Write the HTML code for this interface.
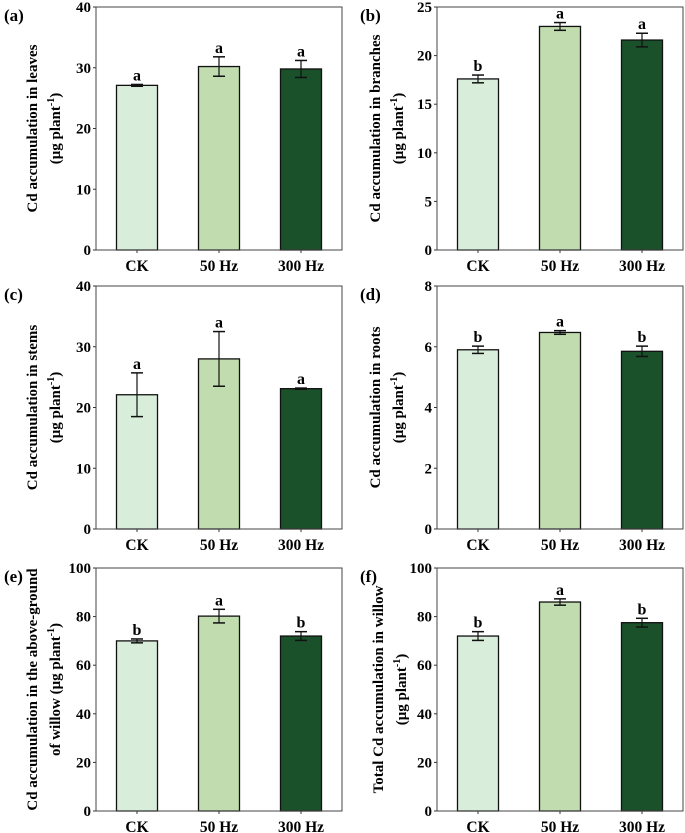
<!DOCTYPE html>
<html><head><meta charset="utf-8"><style>
html,body{margin:0;padding:0;background:#fff;}
svg{display:block;font-family:"Liberation Serif","Times New Roman",serif;font-weight:bold;}
</style></head><body>
<svg id="fig" width="685" height="833" viewBox="0 0 685 833" xmlns="http://www.w3.org/2000/svg"></svg>
<script>
const categories = ["CK", "50 Hz", "300 Hz"];
const valuesA = [27.1, 30.2, 29.8], errA = [0.15, 1.6, 1.4], sigA = ["a","a","a"], ticksA = [0,10,20,30,40];
const valuesB = [17.6, 23.0, 21.6], errB = [0.4, 0.4, 0.7], sigB = ["b","a","a"], ticksB = [0,5,10,15,20,25];
const valuesC = [22.1, 28.0, 23.1], errC = [3.6, 4.5, 0.1], sigC = ["a","a","a"], ticksC = [0,10,20,30,40];
const valuesD = [5.9, 6.47, 5.85], errD = [0.12, 0.06, 0.17], sigD = ["b","a","b"], ticksD = [0,2,4,6,8];
const valuesE = [70.0, 80.2, 72.0], errE = [0.8, 2.8, 1.8], sigE = ["b","a","b"], ticksE = [0,20,40,60,80,100];
const valuesF = [72.0, 86.0, 77.5], errF = [1.8, 1.3, 1.8], sigF = ["b","a","b"], ticksF = [0,20,40,60,80,100];
const colors = ["#d9eeda", "#c1dcae", "#1a512b"];
const NS = "http://www.w3.org/2000/svg";
const svg = document.getElementById("fig");
function mk(tag, attrs, parent){const e=document.createElementNS(NS,tag);for(const k in attrs)e.setAttribute(k,attrs[k]);(parent||svg).appendChild(e);return e;}
const panels = [
 {id:"a",x0:96,y0:7,vals:valuesA,err:errA,sig:sigA,ticks:ticksA,t1:"Cd accumulation in leaves",t2:"(μg plant",lx:4,ly:21,tx:37},
 {id:"b",x0:437,y0:7,vals:valuesB,err:errB,sig:sigB,ticks:ticksB,t1:"Cd accumulation in branches",t2:"(μg plant",lx:360,ly:21,tx:380},
 {id:"c",x0:96,y0:286,vals:valuesC,err:errC,sig:sigC,ticks:ticksC,t1:"Cd accumulation in stems",t2:"(μg plant",lx:4,ly:300,tx:37},
 {id:"d",x0:437,y0:286,vals:valuesD,err:errD,sig:sigD,ticks:ticksD,t1:"Cd accumulation in roots",t2:"(μg plant",lx:360,ly:300,tx:380},
 {id:"e",x0:96,y0:568,vals:valuesE,err:errE,sig:sigE,ticks:ticksE,t1:"Cd accumulation in the above-ground",t2:"of willow (μg plant",lx:4,ly:582,tx:37},
 {id:"f",x0:437,y0:568,vals:valuesF,err:errF,sig:sigF,ticks:ticksF,t1:"Total Cd accumulation in willow",t2:"(μg plant",lx:360,ly:582,tx:383}
];
const W=246, H=243;
panels.forEach(p=>{
  const g=mk("g",{});
  
  
  const ymax=p.ticks[p.ticks.length-1];
  const yS=v=>p.y0+H-v/ymax*H;
  const step=W/categories.length;
  const xS=i=>p.x0+step*(i+0.5);
  const lab=mk("text",{x:p.lx,y:p.ly,"font-size":17},g);lab.textContent="("+p.id+")";
  
  
  p.ticks.forEach(t=>{
    mk("line",{x1:p.x0-3,x2:p.x0,y1:yS(t),y2:yS(t),stroke:"#333","stroke-width":1},g);
    const tl=mk("text",{x:p.x0-5,y:yS(t)+5,"font-size":15,"text-anchor":"end"},g);tl.textContent=t;
    
    
  });
  categories.forEach((c,i)=>{
    const v=p.vals[i],e=p.err[i],cx=xS(i),bw=step*0.5;
    const r=mk("rect",{x:cx-bw/2,y:yS(v),width:bw,height:yS(0)-yS(v),fill:colors[i],stroke:"#111","stroke-width":1.3},g);
    
    
    mk("line",{x1:cx,x2:cx,y1:yS(v+e),y2:yS(v-e),stroke:"#111","stroke-width":1.2},g);
    mk("line",{x1:cx-6,x2:cx+6,y1:yS(v+e),y2:yS(v+e),stroke:"#111","stroke-width":1.5},g);
    mk("line",{x1:cx-6,x2:cx+6,y1:yS(v-e),y2:yS(v-e),stroke:"#111","stroke-width":1.5},g);
    const s=mk("text",{x:cx,y:yS(v+e)-4,"font-size":16,"text-anchor":"middle"},g);s.textContent=p.sig[i];
    
    
    mk("line",{x1:cx,x2:cx,y1:p.y0+H,y2:p.y0+H+3,stroke:"#333","stroke-width":1},g);
    const xl=mk("text",{x:cx,y:p.y0+H+21,"font-size":15.5,"text-anchor":"middle"},g);xl.textContent=c;
    
    
  });
  const fr=mk("rect",{x:p.x0,y:p.y0,width:W,height:H,fill:"none",stroke:"#444","stroke-width":1},g);
  
  
  const cy=p.y0+H/2;
  const t1=mk("text",{x:0,y:0,"font-size":15,"text-anchor":"middle",transform:`translate(${p.tx},${cy}) rotate(-90)`},g);t1.textContent=p.t1;
  
  
  const t2=mk("text",{x:0,y:0,"font-size":15,"text-anchor":"middle",transform:`translate(${p.tx+23},${cy}) rotate(-90)`},g);
  t2.textContent=p.t2;
  const sup=mk("tspan",{"font-size":10,dy:-6},t2);sup.textContent="-1";
  const cl=mk("tspan",{dy:6},t2);cl.textContent=")";
  
  
});
</script>
</body></html>
